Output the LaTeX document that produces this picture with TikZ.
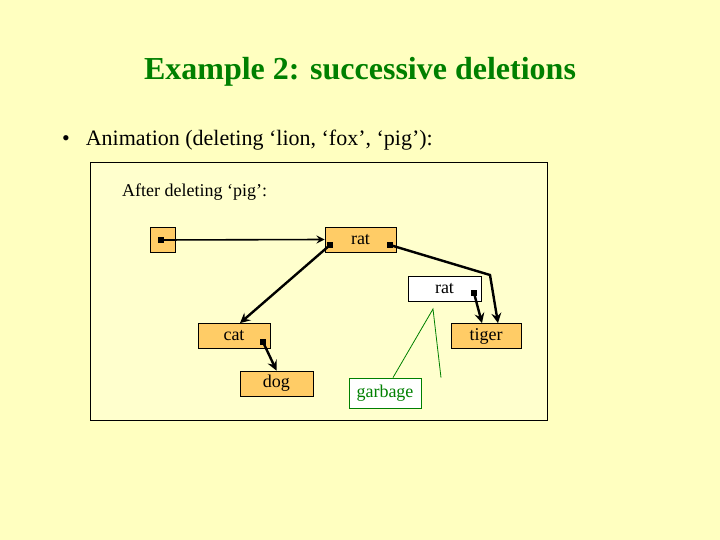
\documentclass[tikz,border=0pt]{standalone}
\usepackage{fontspec}
\setmainfont{Liberation Serif}
\usepackage{tikz}
\definecolor{slidebg}{RGB}{255,255,192}
\definecolor{cellfill}{RGB}{255,204,102}
\definecolor{titlegreen}{RGB}{0,128,0}
\begin{document}
\begin{tikzpicture}[x=0.5pt,y=-0.5pt,>=stealth,
    cell/.style={draw,fill=cellfill,minimum height=12.5pt,inner sep=0pt,font=\fontsize{9}{10}\selectfont},
    link/.style={->,very thick},
    dot/.style={fill=black,minimum size=3pt,inner sep=0pt}]
        % background
        \fill[slidebg] (0,0) rectangle (720,540);
        \useasboundingbox (0,0) rectangle (720,540);
        \node[font=\fontsize{16}{18}\selectfont\bfseries,text=titlegreen] (title) at (360,72) {Example 2: successive deletions};
        \node[anchor=west,font=\fontsize{11}{13}\selectfont] (bullet) at (55,140) {\textbullet\hspace{8pt}Animation (deleting ‘lion, ‘fox’, ‘pig’):};
        \draw[fill=slidebg!80!white] (90,162) rectangle (547,420);
        \node[anchor=west,font=\fontsize{9}{11}\selectfont] (step) at (115,192) {After deleting ‘pig’:};
        % cells
        \node[cell,minimum width=12.5pt] (root) at (162.5,239.5) {};
        \node[cell,minimum width=35.5pt] (rat) at (360.5,239.5) {rat};
        \node[cell,fill=white,minimum width=36.5pt] (oldrat) at (444.5,289) {rat};
        \node[cell,minimum width=36pt] (cat) at (234,336) {cat};
        \node[cell,minimum width=35pt] (tiger) at (486,336) {tiger};
        \node[cell,minimum width=36.5pt] (dog) at (276.5,383.5) {dog};
        \node[draw=titlegreen,fill=white,text=titlegreen,minimum width=36pt,minimum height=15pt,inner sep=0pt,font=\fontsize{9}{10}\selectfont] (garbage) at (385,393) {garbage};
        % callout
        \coordinate (tip) at (433,309);
        \draw[titlegreen] (garbage.north) ++(8,0) coordinate (g1) -- (tip) -- ([xshift=28]garbage.north) coordinate (g2);
        % pointers
        \node[dot] (d0) at (161,240) {};
        \node[dot] (d1) at (330,245) {};
        \node[dot] (d2) at (390,245) {};
        \node[dot] (d3) at (474,293) {};
        \node[dot] (d4) at (263,342) {};
        \draw[->,thick] (d0.center) -- (rat.west);
        \draw[link] (d1.center) -- ([xshift=3]cat.north);
        \draw[link] (d2.center) -- (490,275) -- ([xshift=6]tiger.north);
        \draw[link] (d3.center) -- ([xshift=-2]tiger.north);
        \draw[link] (d4.center) -- (dog.north);
\end{tikzpicture}
\end{document}
